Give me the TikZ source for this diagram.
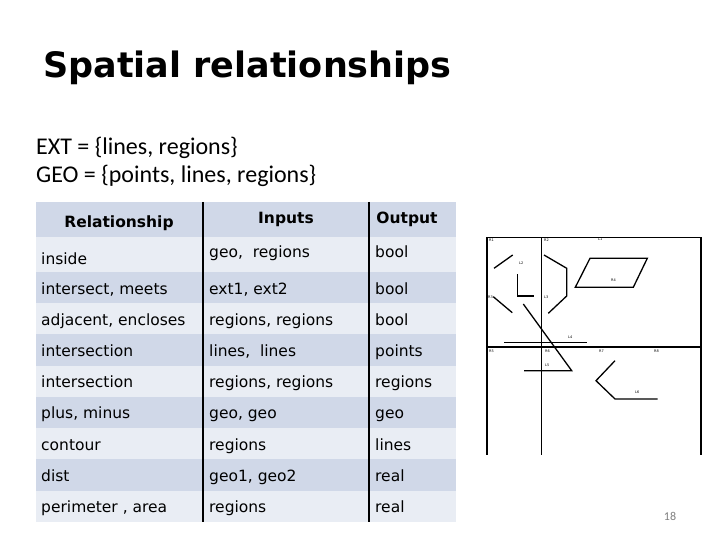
\documentclass[tikz,border=0pt]{standalone}
\usepackage{fontspec}
\setmainfont{DejaVu Sans}
\newfontfamily\slidefont{Carlito}
\usetikzlibrary{positioning}
\definecolor{rowdark}{HTML}{D0D8E8}
\definecolor{rowlight}{HTML}{E9EDF4}

\begin{document}
\begin{tikzpicture}[x=1pt,y=-1pt,inner sep=0pt,
    cell/.style={anchor=base west,font=\fontsize{15.5}{18}\selectfont},
    head/.style={anchor=base,font=\bfseries\fontsize{15.5}{18}\selectfont},
    rule/.style={line width=2pt},
    fig/.style={line width=1.3pt},
    tag/.style={anchor=north west,font=\fontsize{3.5}{4}\selectfont}]
      \useasboundingbox[fill=white] (0,0) rectangle (720,540);
      \node[anchor=base west,font=\bfseries\fontsize{35}{40}\selectfont] (title) at (43,78) {Spatial relationships};
      \node[anchor=base west,font=\slidefont\fontsize{24}{28}\selectfont] (ext) at (36,155) {EXT = \{lines, regions\}};
      \node[anchor=base west,font=\slidefont\fontsize{24}{28}\selectfont] (geo) at (36,182.5) {GEO = \{points, lines, regions\}};

      \fill[rowdark] (36,202) rectangle (456,237);
      \fill[rowlight] (36,237) rectangle (456,272);
      \fill[rowdark] (36,272) rectangle (456,303);
      \fill[rowlight] (36,303) rectangle (456,334);
      \fill[rowdark] (36,334) rectangle (456,366);
      \fill[rowlight] (36,366) rectangle (456,397);
      \fill[rowdark] (36,397) rectangle (456,428);
      \fill[rowlight] (36,428) rectangle (456,459);
      \fill[rowdark] (36,459) rectangle (456,491);
      \fill[rowlight] (36,491) rectangle (456,522);
      \draw[rule] (203,202) -- (203,522);
      \draw[rule] (369,202) -- (369,522);

      \node[head] (h1) at (119,228) {Relationship};
      \node[head] (h2) at (286,224) {Inputs};
      \node[head] (h3) at (407,224) {Output};

      \node[cell] (r1) at (41,264) {inside};
      \node[cell] (i1) at (209,258) {geo,\ \ regions};
      \node[cell] (o1) at (375,258) {bool};
      \node[cell] (r2) at (41,294) {intersect, meets};
      \node[cell] (i2) at (209,294) {ext1, ext2};
      \node[cell] (o2) at (375,294) {bool};
      \node[cell] (r3) at (41,325) {adjacent, encloses};
      \node[cell] (i3) at (209,325) {regions, regions};
      \node[cell] (o3) at (375,325) {bool};
      \node[cell] (r4) at (41,356.5) {intersection};
      \node[cell] (i4) at (209,356.5) {lines,\ \ lines};
      \node[cell] (o4) at (375,356.5) {points};
      \node[cell] (r5) at (41,387.5) {intersection};
      \node[cell] (i5) at (209,387.5) {regions, regions};
      \node[cell] (o5) at (375,387.5) {regions};
      \node[cell] (r6) at (41,418.5) {plus, minus};
      \node[cell] (i6) at (209,418.5) {geo, geo};
      \node[cell] (o6) at (375,418.5) {geo};
      \node[cell] (r7) at (41,450) {contour};
      \node[cell] (i7) at (209,450) {regions};
      \node[cell] (o7) at (375,450) {lines};
      \node[cell] (r8) at (41,481) {dist};
      \node[cell] (i8) at (209,481) {geo1, geo2};
      \node[cell] (o8) at (375,481) {real};
      \node[cell] (r9) at (41,512) {perimeter , area};
      \node[cell] (i9) at (209,512) {regions};
      \node[cell] (o9) at (375,512) {real};

      \draw[fig] (486,237.3) -- (701.5,237.3);
      \draw[fig] (487,237) -- (487,455);
      \draw[fig] (541.3,237) -- (541.3,455);
      \draw[fig] (701,237) -- (701,455);
      \draw[fig] (486,347) -- (701.5,347);
      \draw[fig] (494,268.3) -- (512.7,255);
      \draw[fig] (517.3,274) -- (517.3,296) -- (534.3,296);
      \draw[fig] (493.3,296.7) -- (512.3,312.7);
      \draw[fig] (523.3,304) -- (571.7,370.7) -- (524,370.7);
      \draw[fig] (504,342.3) -- (586.7,342.3);
      \draw[fig] (544,255) -- (566.7,268.3) -- (566.7,296) -- (548.3,313.3);
      \draw[fig] (590,258.3) -- (647.3,258.3) -- (633.3,287.3) -- (575.3,287.3) -- cycle;
      \draw[fig] (615,360.7) -- (596,380.7) -- (615,399) -- (657.7,399);

      \node[tag] (t1) at (489,239) {R1};
      \node[tag] (t2) at (544,239) {R2};
      \node[tag] (t3) at (598,238) {L1};
      \node[tag] (t4) at (519,262) {L2};
      \node[tag] (t5) at (488,296) {R3};
      \node[tag] (t6) at (544,296) {L3};
      \node[tag] (t7) at (568,336) {L4};
      \node[tag] (t8) at (489,350) {R5};
      \node[tag] (t9) at (545,350) {R6};
      \node[tag] (t10) at (599,350) {R7};
      \node[tag] (t11) at (654,350) {R8};
      \node[tag] (t12) at (545,364) {L5};
      \node[tag] (t13) at (611,279) {R4};
      \node[tag] (t14) at (635,391) {L6};

      \node[anchor=base,font=\slidefont\fontsize{12}{14}\selectfont,text=gray] (page) at (670,520) {18};
\end{tikzpicture}
\end{document}
